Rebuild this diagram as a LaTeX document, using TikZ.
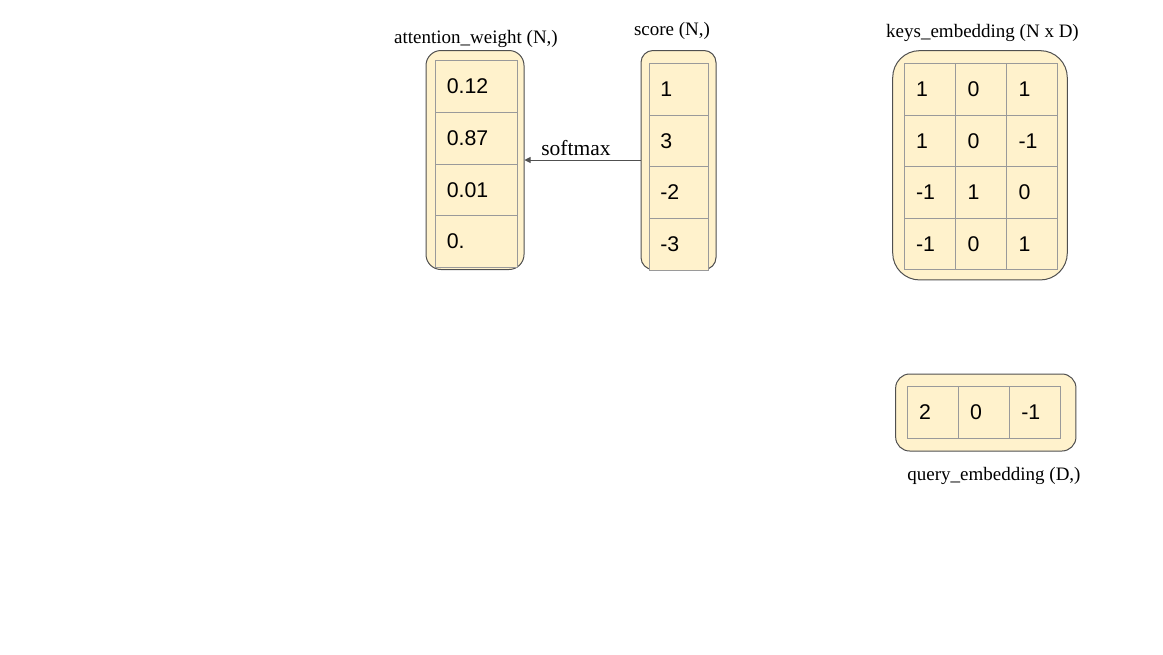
\documentclass[tikz,border=0pt]{standalone}
\usepackage{fontspec}
\setmainfont{Liberation Serif}
\newfontfamily\numfont{Liberation Sans}
\usetikzlibrary{arrows.meta}
\definecolor{cream}{HTML}{FFF2CC}
\definecolor{outerline}{HTML}{505050}
\definecolor{innerline}{HTML}{9A9A9A}
\tikzset{
  outerbox/.style={draw=outerline, fill=cream, line width=1pt, inner sep=0pt},
  cell/.style={draw=innerline, fill=cream, line width=0.8pt, inner sep=0pt, minimum width=#1},
  num/.style={font=\numfont\fontsize{21.3}{25}\selectfont, inner sep=0pt, anchor=west, text=black},
  title/.style={font=\fontsize{19}{22}\selectfont, inner sep=0pt},
  arr/.style={draw=outerline, line width=0.9pt, -{Triangle[length=6pt,width=6pt]}},
}
\begin{document}
\begin{tikzpicture}[x=1pt,y=-1pt]
\useasboundingbox (0,0) rectangle (1163,654);
% attention_weight
\node[outerbox, rounded corners=15pt, minimum width=98pt, minimum height=219pt] (att) at (475,160) {};
\foreach \i/\cy/\v in {1/86.3/0.12, 2/138.2/0.87, 3/190/0.01, 4/241.6/0.} {
  \node[cell=82pt, minimum height=51.7pt] (a\i) at (476,\cy) {};
  \node[num] (at\i) at ([xshift=12pt]a\i.west) {\v};
}
\node[title] (atttitle) at (476,38.5) {attention\_weight (N,)};
% score
\node[outerbox, rounded corners=12pt, minimum width=75pt, minimum height=219pt] (sc) at (678.5,160) {};
\foreach \i/\cy/\v in {1/89.5/1, 2/141.2/3, 3/192.5/-2, 4/244.2/-3} {
  \node[cell=59pt, minimum height=51.7pt] (s\i) at (678.5,\cy) {};
  \node[num] (st\i) at ([xshift=11.5pt]s\i.west) {\v};
}
\node[title] (sctitle) at (672,31) {score (N,)};
% arrow
\draw[arr] (sc.west) -- (att.east);
\node[font=\fontsize{21.5}{24}\selectfont, inner sep=0pt] (smax) at (576,148) {softmax};
% keys_embedding
\node[outerbox, rounded corners=27pt, minimum width=174.6pt, minimum height=229.3pt] (keys) at (980,165.3) {};
\foreach \r/\cy/\va/\vb/\vc in {1/89.5/1/0/1, 2/141.2/1/0/-1, 3/192.5/-1/1/0, 4/243.8/-1/0/1} {
  \node[cell=51.4pt, minimum height=51.6pt] (k\r a) at (930,\cy) {};
  \node[cell=51pt, minimum height=51.6pt] (k\r b) at (981.2,\cy) {};
  \node[cell=50.6pt, minimum height=51.6pt] (k\r c) at (1032,\cy) {};
  \node[num] (kt\r a) at ([xshift=12pt]k\r a.west) {\va};
  \node[num] (kt\r b) at ([xshift=12pt]k\r b.west) {\vb};
  \node[num] (kt\r c) at ([xshift=12pt]k\r c.west) {\vc};
}
\node[title] (keystitle) at (982.5,32.5) {keys\_embedding (N x D)};
% query_embedding
\node[outerbox, rounded corners=14pt, minimum width=180.3pt, minimum height=77pt] (qry) at (985.8,412.5) {};
\foreach \c/\cx/\v in {1/932.8/2, 2/983.8/0, 3/1035/-1} {
  \node[cell=51pt, minimum height=51.6pt] (q\c) at (\cx,412.5) {};
  \node[num] (qt\c) at ([xshift=12pt]q\c.west) {\v};
}
\node[title] (qrytitle) at (994,475.5) {query\_embedding (D,)};
\end{tikzpicture}
\end{document}
